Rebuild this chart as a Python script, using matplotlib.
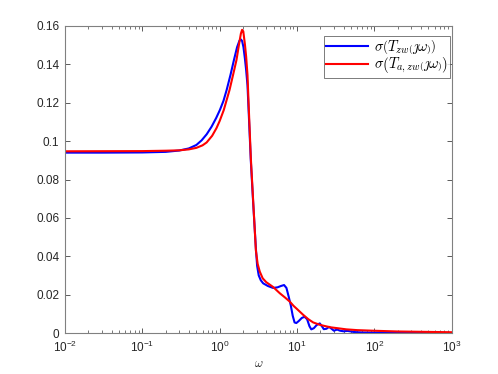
import matplotlib
matplotlib.use("Agg")
import matplotlib.pyplot as plt
from matplotlib.ticker import LogLocator, NullFormatter

plt.rcParams['font.family'] = ['Liberation Sans', 'DejaVu Sans']
plt.rcParams['mathtext.fontset'] = 'cm'

# Blue series: sigma(T_zw(jw))
w_blue = [0.01, 0.03, 0.1, 0.2, 0.3, 0.4, 0.5, 0.584, 0.68, 0.785, 0.9, 1.006, 1.12, 1.23,
          1.38, 1.53, 1.68, 1.8, 1.88, 1.95, 2.03, 2.12, 2.2, 2.29, 2.38, 2.53, 2.71, 2.94,
          3.05, 3.2, 3.4, 3.65, 4.2, 4.9, 5.6, 6.2, 6.8, 7.3, 7.8, 8.3, 8.8, 9.3, 9.8,
          10.5, 11.5, 12.5, 13.5, 14.5, 15.3, 16.5, 18, 19.7, 21, 22.2, 24, 26, 28, 30,
          33, 36, 40, 45, 55, 70, 100, 1000]
s_blue = [0.0940, 0.0940, 0.0941, 0.0944, 0.0951, 0.0962, 0.0980, 0.1004, 0.1036, 0.1075,
          0.1120, 0.1162, 0.1210, 0.1266, 0.1345, 0.1423, 0.1490, 0.1523, 0.1530, 0.1522,
          0.1490, 0.1430, 0.1370, 0.1290, 0.1140, 0.0895, 0.0680, 0.0440, 0.0350, 0.0300,
          0.0275, 0.0259, 0.0245, 0.0235, 0.0238, 0.0245, 0.0250, 0.0235, 0.0190, 0.0145,
          0.0090, 0.0055, 0.0052, 0.0062, 0.0078, 0.0085, 0.0072, 0.0035, 0.0019, 0.0025,
          0.0042, 0.0050, 0.0035, 0.0020, 0.0022, 0.0032, 0.0022, 0.0012, 0.0018, 0.0012,
          0.0009, 0.0011, 0.0005, 0.0003, 0.0002, 0.0000]

# Red series: sigma(T_a,zw(jw))
w_red = [0.01, 0.1, 0.2, 0.3, 0.4, 0.5, 0.6, 0.678, 0.8, 0.91, 1.0, 1.13, 1.34, 1.5, 1.65,
         1.78, 1.88, 1.95, 2.02, 2.12, 2.2, 2.29, 2.38, 2.53, 2.71, 2.94, 3.1, 3.3, 3.6,
         4.0, 4.9, 6.0, 7.0, 8.1, 9.0, 10, 12, 14, 16.2, 20, 26.8, 35, 43.5, 60, 95, 200, 1000]
s_red = [0.0947, 0.0948, 0.0950, 0.0952, 0.0957, 0.0965, 0.0978, 0.0993, 0.1028, 0.1068,
         0.1105, 0.1162, 0.1266, 0.1350, 0.1423, 0.1505, 0.1560, 0.1580, 0.1572, 0.1505,
         0.1440, 0.1344, 0.1170, 0.0910, 0.0690, 0.0430, 0.0360, 0.0320, 0.0285, 0.0265,
         0.0240, 0.0207, 0.0185, 0.0163, 0.0142, 0.0125, 0.0095, 0.0072, 0.0055, 0.0042,
         0.0030, 0.0024, 0.0019, 0.0015, 0.0012, 0.0008, 0.0004]

y_ticks = [0, 0.02, 0.04, 0.06, 0.08, 0.1, 0.12, 0.14, 0.16]
y_labels = ['0', '0.02', '0.04', '0.06', '0.08', '0.1', '0.12', '0.14', '0.16']
label_blue = r'$\sigma\left(T_{zw}\left(\jmath\omega\right)\right)$'
label_red = r'$\sigma\left(T_{a,zw}\left(\jmath\omega\right)\right)$'

fig = plt.figure(figsize=(4.98, 3.74), dpi=100)
ax = fig.add_axes([0.1305, 0.1096, 0.7765, 0.8209])
ax.plot(w_blue, s_blue, color='#0000ff', lw=1.5, label=label_blue)
ax.plot(w_red, s_red, color='#ff0000', lw=1.5, label=label_red)

ax.set_xscale('log')
ax.set_xlim(0.01, 1000)
ax.set_ylim(0, 0.16)
ax.set_yticks(y_ticks)
ax.set_yticklabels(y_labels)
ax.xaxis.set_major_locator(LogLocator(base=10, numticks=10))
ax.xaxis.set_minor_locator(LogLocator(base=10, subs=range(2, 10), numticks=100))
ax.xaxis.set_minor_formatter(NullFormatter())

gray = '#262626'
for sp in ax.spines.values():
    sp.set_color('#808080')
    sp.set_linewidth(0.8)
ax.tick_params(which='both', direction='in', top=True, right=True, colors='#404040',
               labelcolor=gray, labelsize=8.5)
ax.tick_params(which='major', length=3.5, width=0.6)
ax.tick_params(which='minor', length=2, width=0.5)
ax.tick_params(axis='x', pad=5)
ax.tick_params(axis='y', pad=4)

ax.set_xlabel(r'$\omega$', fontsize=9, color=gray, labelpad=2)

leg = ax.legend(loc='upper right', fontsize=10.5, frameon=True, fancybox=False,
                borderaxespad=0.0, handlelength=2.9, handletextpad=0.4,
                borderpad=0.15, labelspacing=0.0, bbox_to_anchor=(0.995, 0.968))
leg.get_frame().set_edgecolor('#404040')
leg.get_frame().set_linewidth(0.6)

fig.savefig('out.png', dpi=100)
